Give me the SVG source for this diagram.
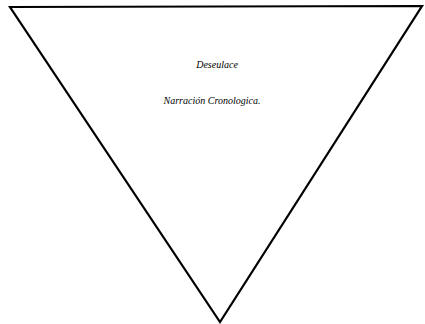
<svg xmlns="http://www.w3.org/2000/svg" width="425" height="324" viewBox="0 0 425 324">
<style>
.edge{fill:none;stroke:#000;stroke-width:2.2;stroke-linejoin:miter}
.t{font-family:"Liberation Serif",serif;font-style:italic;font-size:10px;fill:#000;text-anchor:middle}
</style>
<rect width="425" height="324" fill="#fff"/>
<g id="connectors">
<polygon class="edge" points="10,7 422,6 220,322"/>
</g>
<g id="label-desenlace"><text class="t" x="217" y="68">Deseulace</text></g>
<g id="label-narracion"><text class="t" x="212" y="104">Narración Cronologica.</text></g>
</svg>
